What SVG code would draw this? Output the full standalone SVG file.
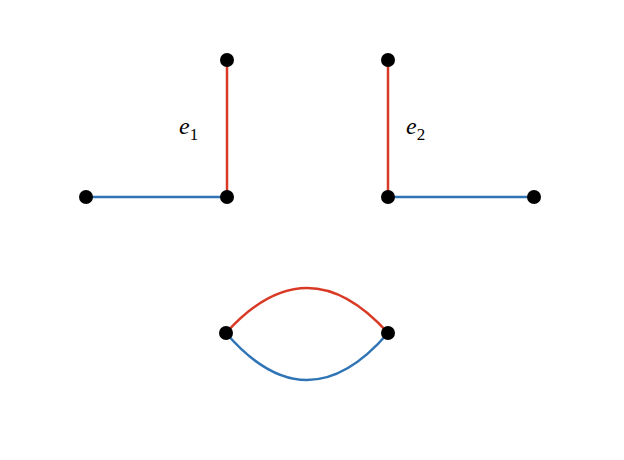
<svg xmlns="http://www.w3.org/2000/svg" width="624" height="460" viewBox="0 0 624 460">
<style>
.r{stroke:#d93a26;stroke-width:2.5;fill:none}
.b{stroke:#2f74b5;stroke-width:2.5;fill:none}
.n{fill:#000}
.t{font-family:"Liberation Serif",serif;font-size:24px;font-style:italic}
.s{font-family:"Liberation Serif",serif;font-size:17px;font-style:normal}
</style>
<rect width="624" height="460" fill="#fff"/>
<g id="connectors">
<line class="r" x1="227" y1="60" x2="227" y2="197"/>
<line class="b" x1="86" y1="197" x2="227" y2="197"/>
<line class="r" x1="388" y1="60" x2="388" y2="197"/>
<line class="b" x1="388" y1="197" x2="534" y2="197"/>
<path class="r" d="M226,333 Q307,243 388,333"/>
<path class="b" d="M226,333 Q307,427 388,333"/>
</g>
<g id="n1"><circle class="n" cx="227" cy="60" r="7"/></g>
<g id="n2"><circle class="n" cx="227" cy="197" r="7"/></g>
<g id="n3"><circle class="n" cx="86" cy="197" r="7"/></g>
<g id="n4"><circle class="n" cx="388" cy="60" r="7"/></g>
<g id="n5"><circle class="n" cx="388" cy="197" r="7"/></g>
<g id="n6"><circle class="n" cx="534" cy="197" r="7"/></g>
<g id="n7"><circle class="n" cx="226" cy="333" r="7"/></g>
<g id="n8"><circle class="n" cx="388" cy="333" r="7"/></g>
<g id="labels">
<text class="t" x="179" y="134">e<tspan class="s" dy="6">1</tspan></text>
<text class="t" x="406" y="134">e<tspan class="s" dy="6">2</tspan></text>
</g>
</svg>
